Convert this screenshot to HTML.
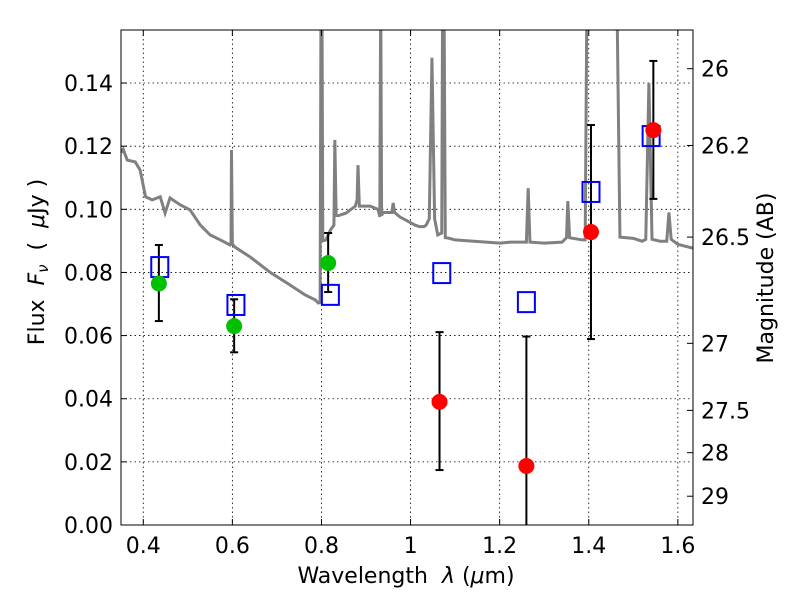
<!DOCTYPE html>
<html><head><meta charset="utf-8"><style>
body{margin:0;background:#fff}
svg text{font-family:"DejaVu Sans","Liberation Sans",sans-serif;fill:#000}
</style></head><body>
<svg id="c" width="800" height="600"></svg>
<script>
const xTicks=[0.4,0.6,0.8,1,1.2,1.4,1.6];
const xTickLabels=["0.4","0.6","0.8","1","1.2","1.4","1.6"];
const yTicks=[0,0.02,0.04,0.06,0.08,0.10,0.12,0.14];
const yTickLabels=["0.00","0.02","0.04","0.06","0.08","0.10","0.12","0.14"];
const magTicks=[26,26.2,26.5,27,27.5,28,29];
const magLabels=["26","26.2","26.5","27","27.5","28","29"];
const specX=[0.35,0.355,0.364,0.382,0.393,0.405,0.42,0.438,0.449,0.46,0.483,0.505,0.528,0.55,0.573,0.595,0.597,0.598,0.6,0.606,0.64,0.685,0.73,0.763,0.786,0.793,0.797,0.799,0.801,0.803,0.81,0.82,0.828,0.83,0.833,0.838,0.855,0.876,0.88,0.882,0.885,0.909,0.927,0.931,0.933,0.935,0.938,0.958,0.961,0.964,0.976,1.01,1.02,1.03,1.035,1.042,1.048,1.054,1.061,1.07,1.072,1.075,1.078,1.084,1.1,1.15,1.201,1.225,1.26,1.264,1.268,1.3,1.34,1.35,1.353,1.357,1.385,1.392,1.396,1.40,1.463,1.47,1.5,1.52,1.528,1.535,1.542,1.56,1.575,1.58,1.585,1.6,1.634];
const specY=[0.118,0.119,0.1156,0.115,0.1124,0.104,0.103,0.104,0.0988,0.1036,0.1014,0.0998,0.095,0.0919,0.0903,0.0887,0.089,0.1188,0.089,0.088,0.0849,0.080,0.076,0.0729,0.0713,0.0703,0.0705,0.17,0.17,0.09,0.0903,0.0934,0.095,0.122,0.098,0.098,0.0988,0.101,0.103,0.114,0.101,0.101,0.100,0.0976,0.17,0.098,0.099,0.099,0.102,0.099,0.0976,0.095,0.0945,0.0945,0.095,0.097,0.148,0.097,0.0919,0.0925,0.17,0.17,0.091,0.0909,0.0903,0.0898,0.0893,0.0896,0.0896,0.1067,0.0896,0.0893,0.0896,0.091,0.1026,0.091,0.0903,0.0903,0.17,0.17,0.17,0.0912,0.0908,0.0899,0.0905,0.14,0.0905,0.0899,0.0899,0.099,0.0905,0.0889,0.0877];
const boxX=[0.437,0.608,0.82,1.07,1.26,1.405,1.54];
const boxY=[0.0817,0.0697,0.0729,0.0798,0.0706,0.1055,0.1232];
const ptX=[0.435,0.604,0.815,1.065,1.26,1.405,1.545];
const ptY=[0.0765,0.063,0.083,0.039,0.0187,0.0928,0.1251];
const errLo=[0.0646,0.0547,0.0738,0.0174,-0.02,0.0589,0.1033];
const errHi=[0.0887,0.0715,0.0925,0.0611,0.0597,0.1267,0.147];
const ptColor=["#00c000","#00c000","#00c000","#ff0000","#ff0000","#ff0000","#ff0000"];

const L=121,R=693,T=30,B=525,xmin=0.35,xmax=1.634,ymin=0,ymax=0.1568;
const sx=v=>L+(v-xmin)/(xmax-xmin)*(R-L);
const sy=v=>B-(v-ymin)/(ymax-ymin)*(B-T);
const NS="http://www.w3.org/2000/svg";
const svg=document.getElementById('c');
function mk(tag,attrs,parent){const e=document.createElementNS(NS,tag);for(const k in attrs)e.setAttribute(k,attrs[k]);(parent||svg).appendChild(e);return e;}
const defs=mk('defs',{});const cp=mk('clipPath',{id:'clip'},defs);mk('rect',{x:L,y:T,width:R-L,height:B-T},cp);

const grid=mk('g',{});


xTicks.forEach(v=>{mk('line',{x1:sx(v),x2:sx(v),y1:T,y2:B,stroke:'#000','stroke-width':0.8,'stroke-dasharray':'1.5,3'},grid);});
yTicks.forEach(v=>{mk('line',{x1:L,x2:R,y1:sy(v),y2:sy(v),stroke:'#000','stroke-width':0.8,'stroke-dasharray':'1.5,3'},grid);});

const spec=mk('polyline',{points:specX.map((x,i)=>sx(x)+','+sy(specY[i])).join(' '),fill:'none',stroke:'#808080','stroke-width':3,'clip-path':'url(#clip)'});



ptX.forEach((x,i)=>{
 const g=mk('g',{'clip-path':'url(#clip)'});
 
 
 mk('line',{x1:sx(x),x2:sx(x),y1:sy(errLo[i]),y2:sy(errHi[i]),stroke:'#000','stroke-width':2},g);
 mk('line',{x1:sx(x)-4,x2:sx(x)+4,y1:sy(errLo[i]),y2:sy(errLo[i]),stroke:'#000','stroke-width':2},g);
 mk('line',{x1:sx(x)-4,x2:sx(x)+4,y1:sy(errHi[i]),y2:sy(errHi[i]),stroke:'#000','stroke-width':2},g);
});
boxX.forEach((x,i)=>{
 const r=mk('rect',{x:sx(x)-8.5,y:sy(boxY[i])-10,width:17,height:20,fill:'none',stroke:'#0000ff','stroke-width':2});
 
 
});
ptX.forEach((x,i)=>{
 const c=mk('circle',{cx:sx(x),cy:sy(ptY[i]),r:8,fill:ptColor[i]});
 
 
});

const frame=mk('rect',{x:L,y:T,width:R-L,height:B-T,fill:'none',stroke:'#000','stroke-width':1});



xTicks.forEach((v,i)=>{
 mk('line',{x1:sx(v),x2:sx(v),y1:B,y2:B-6,stroke:'#000'});mk('line',{x1:sx(v),x2:sx(v),y1:T,y2:T+6,stroke:'#000'});
 const t=mk('text',{x:sx(v),y:B+28,'text-anchor':'middle','font-size':22});t.textContent=xTickLabels[i];
 
 
});
yTicks.forEach((v,i)=>{
 mk('line',{x1:L,x2:L+6,y1:sy(v),y2:sy(v),stroke:'#000'});
 const t=mk('text',{x:L-8,y:sy(v)+8,'text-anchor':'end','font-size':22});t.textContent=yTickLabels[i];
 
 
});
magTicks.forEach((m,i)=>{
 const f=Math.pow(10,(23.9-m)/2.5);
 mk('line',{x1:R,x2:R-6,y1:sy(f),y2:sy(f),stroke:'#000'});
 const t=mk('text',{x:R+8,y:sy(f)+8,'font-size':22});t.textContent=magLabels[i];
 
 
});

const xl=mk('text',{x:406,y:583,'text-anchor':'middle','font-size':22});
xl.innerHTML='Wavelength\u00a0\u00a0<tspan font-style="italic">λ</tspan>\u00a0(<tspan font-style="italic">μ</tspan>m)';


const yl=mk('text',{x:44,y:262,'text-anchor':'middle','font-size':22,transform:'rotate(-90 44 262)'});
yl.innerHTML='Flux\u00a0\u00a0<tspan font-style="italic">F</tspan><tspan font-style="italic" font-size="15" dy="4">ν</tspan><tspan dy="-4">\u00a0\u00a0(\u00a0\u00a0</tspan><tspan font-style="italic">μ</tspan>Jy\u00a0)';


const rl=mk('text',{x:773,y:278,'text-anchor':'middle','font-size':22,transform:'rotate(-90 773 278)'});
rl.textContent='Magnitude (AB)';


</script>
</body></html>
